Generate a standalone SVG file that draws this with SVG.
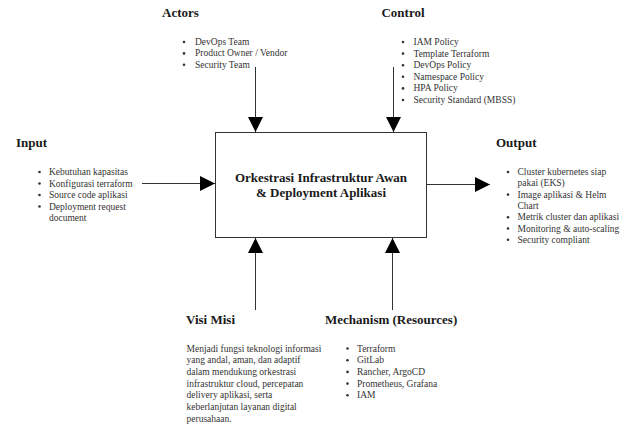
<svg xmlns="http://www.w3.org/2000/svg" width="644" height="428" viewBox="0 0 644 428">
<style>
.t{font-family:"Liberation Serif","Times New Roman",serif;font-size:13px;font-weight:bold;fill:#1a1a1a}
.l{font-family:"Liberation Serif","Times New Roman",serif;font-size:9.5px;fill:#333}
.b{fill:#333}
.c{stroke:#333;stroke-width:1;fill:none}
.box{fill:#fff;stroke:#333;stroke-width:1}
</style>
<defs>
<marker id="ah" viewBox="0 0 10 10" refX="10" refY="5" markerWidth="15" markerHeight="15" markerUnits="userSpaceOnUse" orient="auto">
<path d="M0,0 L10,5 L0,10 z" fill="#000"/>
</marker>
</defs>
<rect width="644" height="428" fill="#fff"/>

<g id="connectors">
<line class="c" x1="255.5" y1="67" x2="255.5" y2="132" marker-end="url(#ah)"/>
<line class="c" x1="393.5" y1="67" x2="393.5" y2="132" marker-end="url(#ah)"/>
<line class="c" x1="142" y1="183.5" x2="215" y2="183.5" marker-end="url(#ah)"/>
<line class="c" x1="427" y1="184.5" x2="490" y2="184.5" marker-end="url(#ah)"/>
<line class="c" x1="255.5" y1="310" x2="255.5" y2="238" marker-end="url(#ah)"/>
<line class="c" x1="392.5" y1="310" x2="392.5" y2="238" marker-end="url(#ah)"/>
</g>

<g id="process">
<rect class="box" x="215.5" y="132.5" width="211" height="105"/>
<text class="t" x="321" y="182" text-anchor="middle">Orkestrasi Infrastruktur Awan</text>
<text class="t" x="321" y="197" text-anchor="middle">&amp; Deployment Aplikasi</text>
</g>

<g id="actors">
<text class="t" x="180.5" y="17" text-anchor="middle">Actors</text>
<circle class="b" cx="184" cy="42" r="1.3"/>
<circle class="b" cx="184" cy="53.4" r="1.3"/>
<circle class="b" cx="184" cy="64.8" r="1.3"/>
<text class="l" x="195" y="45">DevOps Team</text>
<text class="l" x="195" y="56.4">Product Owner / Vendor</text>
<text class="l" x="195" y="67.8">Security Team</text>
</g>

<g id="control">
<text class="t" x="403" y="17" text-anchor="middle">Control</text>
<circle class="b" cx="403" cy="42" r="1.3"/>
<circle class="b" cx="403" cy="53.6" r="1.3"/>
<circle class="b" cx="403" cy="65.2" r="1.3"/>
<circle class="b" cx="403" cy="76.8" r="1.3"/>
<circle class="b" cx="403" cy="88.4" r="1.3"/>
<circle class="b" cx="403" cy="100" r="1.3"/>
<text class="l" x="413.5" y="45">IAM Policy</text>
<text class="l" x="413.5" y="56.6">Template Terraform</text>
<text class="l" x="413.5" y="68.2">DevOps Policy</text>
<text class="l" x="413.5" y="79.8">Namespace Policy</text>
<text class="l" x="413.5" y="91.4">HPA Policy</text>
<text class="l" x="413.5" y="103">Security Standard (MBSS)</text>
</g>

<g id="input">
<text class="t" x="16" y="147">Input</text>
<circle class="b" cx="39.5" cy="172" r="1.3"/>
<circle class="b" cx="39.5" cy="183.5" r="1.3"/>
<circle class="b" cx="39.5" cy="195" r="1.3"/>
<circle class="b" cx="39.5" cy="206.5" r="1.3"/>
<text class="l" x="49" y="175">Kebutuhan kapasitas</text>
<text class="l" x="49" y="186.5">Konfigurasi terraform</text>
<text class="l" x="49" y="198">Source code aplikasi</text>
<text class="l" x="49" y="209.5">Deployment request</text>
<text class="l" x="49" y="221">document</text>
</g>

<g id="output">
<text class="t" x="496" y="147">Output</text>
<circle class="b" cx="508" cy="172" r="1.3"/>
<circle class="b" cx="508" cy="194.6" r="1.3"/>
<circle class="b" cx="508" cy="217.2" r="1.3"/>
<circle class="b" cx="508" cy="228.5" r="1.3"/>
<circle class="b" cx="508" cy="239.8" r="1.3"/>
<text class="l" x="517.5" y="175">Cluster kubernetes siap</text>
<text class="l" x="517.5" y="186.3">pakai (EKS)</text>
<text class="l" x="517.5" y="197.6">Image aplikasi &amp; Helm</text>
<text class="l" x="517.5" y="208.9">Chart</text>
<text class="l" x="517.5" y="220.2">Metrik cluster dan aplikasi</text>
<text class="l" x="517.5" y="231.5">Monitoring &amp; auto-scaling</text>
<text class="l" x="517.5" y="242.8">Security compliant</text>
</g>

<g id="visi-misi">
<text class="t" x="186" y="324">Visi Misi</text>
<text class="l" x="186.5" y="351.5">Menjadi fungsi teknologi informasi</text>
<text class="l" x="186.5" y="363.2">yang andal, aman, dan adaptif</text>
<text class="l" x="186.5" y="374.9">dalam mendukung orkestrasi</text>
<text class="l" x="186.5" y="386.6">infrastruktur cloud, percepatan</text>
<text class="l" x="186.5" y="398.3">delivery aplikasi, serta</text>
<text class="l" x="186.5" y="410">keberlanjutan layanan digital</text>
<text class="l" x="186.5" y="421.7">perusahaan.</text>
</g>

<g id="mechanism">
<text class="t" x="325" y="324">Mechanism (Resources)</text>
<circle class="b" cx="347.5" cy="348.5" r="1.3"/>
<circle class="b" cx="347.5" cy="360.2" r="1.3"/>
<circle class="b" cx="347.5" cy="371.9" r="1.3"/>
<circle class="b" cx="347.5" cy="383.6" r="1.3"/>
<circle class="b" cx="347.5" cy="395.3" r="1.3"/>
<text class="l" x="357" y="351.5">Terraform</text>
<text class="l" x="357" y="363.2">GitLab</text>
<text class="l" x="357" y="374.9">Rancher, ArgoCD</text>
<text class="l" x="357" y="386.6">Prometheus, Grafana</text>
<text class="l" x="357" y="398.3">IAM</text>
</g>
</svg>
